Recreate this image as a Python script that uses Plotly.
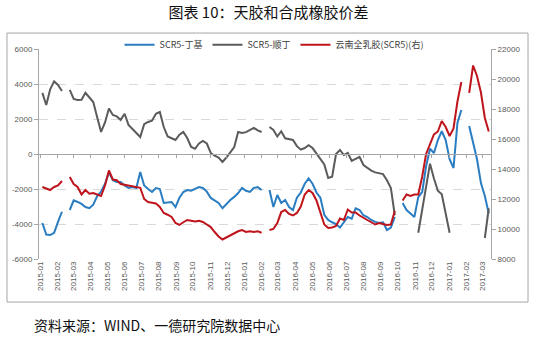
import datetime as dt
import plotly.graph_objects as go

# Weekly observation dates (Mondays) from 2015-01-05
start = dt.date(2015, 1, 5)
dates = [(start + dt.timedelta(days=7 * i)).isoformat() for i in range(115)]

N = None
scr5_butyl = [  # SCR5-丁基 (left axis)
    -3940, -4600, -4630, -4500, -3880, -3300, N, -3200, -2650, -2740,
    -2850, -3030, -3100, -2900, -2400, -2150, -1700, -1050, -1500, -1600,
    -1600, -1800, -1940, -1890, -1940, -1030, -1800, -2000, -2170, -1950,
    -2000, -2800, -2750, -2740, -3030, -2500, -2170, -2060, -2100, -2000,
    -1890, -1940, -2150, -2510, -2650, -2800, -3100, -2850, -2630, -2450,
    -2230, -1940, -2100, -2170, -1940, -1890, -2060, N, -2060, -3030,
    -2340, -2800, -2630, -3030, -3200, -2500, -2200, -1700, -1400, -1700,
    -2200, -2500, -3480, -3770, -3900, -4000, -4200, -3900, -3600, -3700,
    -3100, -3200, -3500, -3600, -3770, -3880, -3940, -3900, -4340, -4200,
    -3600, N, -2800, -3200, -3400, -3600, -2460, -2170, -700, 300,
    60, 800, 1300, 800, -300, -800, 1770, 2510, N, 1600,
    600, -300, -1660, -2400, -3400,
]
scr5_bd = [  # SCR5-顺丁 (left axis)
    3490, 2800, 3700, 4150, 3950, 3600, N, 3660, 3150, 3090,
    3100, 3500, 3200, 2970, 2100, 1260, 1800, 2600, 2230, 2150,
    1950, 2300, 1660, 1400, 1200, 970, 1700, 1830, 1900, 2300,
    2400, 1540, 1000, 900, 800, 1100, 1260, 910, 400, 300,
    600, 750, 600, 60, -100, -200, -450, -200, 100, 400,
    1260, 1200, 1250, 1350, 1490, 1350, 1260, N, 1540, 1370,
    1000, 1300, 900, 850, 800, 450, 250, 340, 500, 340,
    50, -250, -600, -1370, -1300, 0, 230, -60, 60, -400,
    -300, -170, -630, -800, -950, -1050, -1100, -1150, -1500, -1940,
    -3500, N, N, N, N, N, -4500, -3200, -1800, -550,
    -1400, -2100, -2300, -3400, -4500, N, N, N, N, N,
    N, N, N, -4800, -3100,
]
yunnan_scr5 = [  # 云南全乳胶(SCR5) (right axis)
    12800, 12700, 12600, 12800, 12900, 13200, N, 13470, 13000, 12800,
    12300, 12600, 12350, 12400, 12300, 12200, 12900, 13900, 13300, 13250,
    13000, 12950, 12900, 12800, 12750, 12750, 12000, 11800, 11750, 11700,
    11470, 11070, 10950, 10800, 10400, 10270, 10450, 10600, 10550, 10500,
    10550, 10470, 10300, 10130, 9800, 9500, 9300, 9450, 9550, 9730,
    9850, 9930, 9800, 9850, 9800, 9850, 9750, N, 9930, 10000,
    10400, 11130, 11270, 11000, 10900, 11070, 11500, 12300, 12600, 12400,
    11900, 11130, 10300, 10070, 10100, 10200, 10700, 10600, 11300, 11100,
    11100, 10900, 10750, 10600, 10450, 10300, 10400, 10350, 10270, 10300,
    11200, N, 11900, 12300, 12200, 12300, 12300, 13500, 15000, 15700,
    16300, 16500, 17200, 16800, 16200, 16700, 18500, 19800, N, 19070,
    20900, 20200, 19100, 17400, 16500,
]

left_ticks = [-6000, -4000, -2000, 0, 2000, 4000, 6000]
right_ticks = [8000, 10000, 12000, 14000, 16000, 18000, 20000, 22000]
series_names = ["SCR5-丁基", "SCR5-顺丁", "云南全乳胶(SCR5)(右)"]
colors = ["#2A7DC1", "#5B5B5B", "#C0141C"]

fig = go.Figure()
fig.add_trace(go.Scatter(x=dates, y=scr5_butyl, name=series_names[0], mode="lines",
                         line=dict(color=colors[0], width=2), yaxis="y"))
fig.add_trace(go.Scatter(x=dates, y=scr5_bd, name=series_names[1], mode="lines",
                         line=dict(color=colors[1], width=2), yaxis="y"))
fig.add_trace(go.Scatter(x=dates, y=yunnan_scr5, name=series_names[2], mode="lines",
                         line=dict(color=colors[2], width=2), yaxis="y2"))
# helper (empty) trace so that the zero-crossing category axis is drawn
fig.add_trace(go.Scatter(x=[], y=[], xaxis="x2", yaxis="y", showlegend=False, hoverinfo="skip"))

tick_font = dict(family="Liberation Sans, Arial, sans-serif", size=8, color="#595959")
xrange = ["2014-12-30", "2017-03-17"]

fig.update_layout(
    width=537, height=337,
    margin=dict(l=39, r=46, t=49, b=78),
    paper_bgcolor="white", plot_bgcolor="white",
    showlegend=True,
    legend=dict(orientation="h", x=0.52, y=1.02, xanchor="center", yanchor="middle",
                bgcolor="rgba(0,0,0,0)", font=dict(family="Noto Sans CJK SC", size=9, color="#404040"),
                itemwidth=30, tracegroupgap=0),
    xaxis=dict(type="date", range=xrange, dtick="M1", tick0="2015-01-01",
               tickformat="%Y-%m", tickangle=-90, tickfont=tick_font,
               showgrid=False, showline=False, ticks="", zeroline=False),
    xaxis2=dict(type="date", range=xrange, dtick="M1", tick0="2015-01-01",
                overlaying="x", anchor="free", position=0.5, side="bottom",
                showticklabels=False, showgrid=False, showline=True, linecolor="#A6A6A6",
                linewidth=1, ticks="outside", ticklen=3, tickcolor="#A6A6A6"),
    yaxis=dict(range=[-6000, 6000], tickvals=left_ticks, ticktext=[str(v) for v in left_ticks],
               tickfont=tick_font,
               showgrid=True, gridcolor="#D9D9D9", griddash="dash", gridwidth=1,
               zeroline=False, showline=True, linecolor="#A6A6A6", linewidth=1,
               ticks="outside", ticklen=4, tickcolor="#A6A6A6"),
    yaxis2=dict(range=[8000, 22000], tickvals=right_ticks, ticktext=[str(v) for v in right_ticks],
                tickfont=tick_font,
                overlaying="y", side="right", showgrid=False, zeroline=False,
                showline=True, linecolor="#A6A6A6", linewidth=1,
                ticks="outside", ticklen=4, tickcolor="#A6A6A6"),
    title=dict(text="图表 10：天胶和合成橡胶价差", x=0.5, xanchor="center",
               y=0.961, yanchor="middle", yref="container",
               font=dict(family="Noto Sans CJK SC", size=15, color="#111111")),
)

# outer frame of the chart
fig.add_shape(type="rect", xref="paper", yref="paper",
              x0=-0.0708, x1=1.0819, y0=-0.205, y1=1.076,
              line=dict(color="#A6A6A6", width=1), fillcolor="rgba(0,0,0,0)", layer="below")

fig.add_annotation(text="资料来源：WIND、一德研究院数据中心", xref="paper", yref="paper",
                   x=-0.0155, y=-0.314, xanchor="left", yanchor="middle", showarrow=False,
                   font=dict(family="Noto Sans CJK SC", size=14, color="#111111"))

fig.write_html("out.html")
